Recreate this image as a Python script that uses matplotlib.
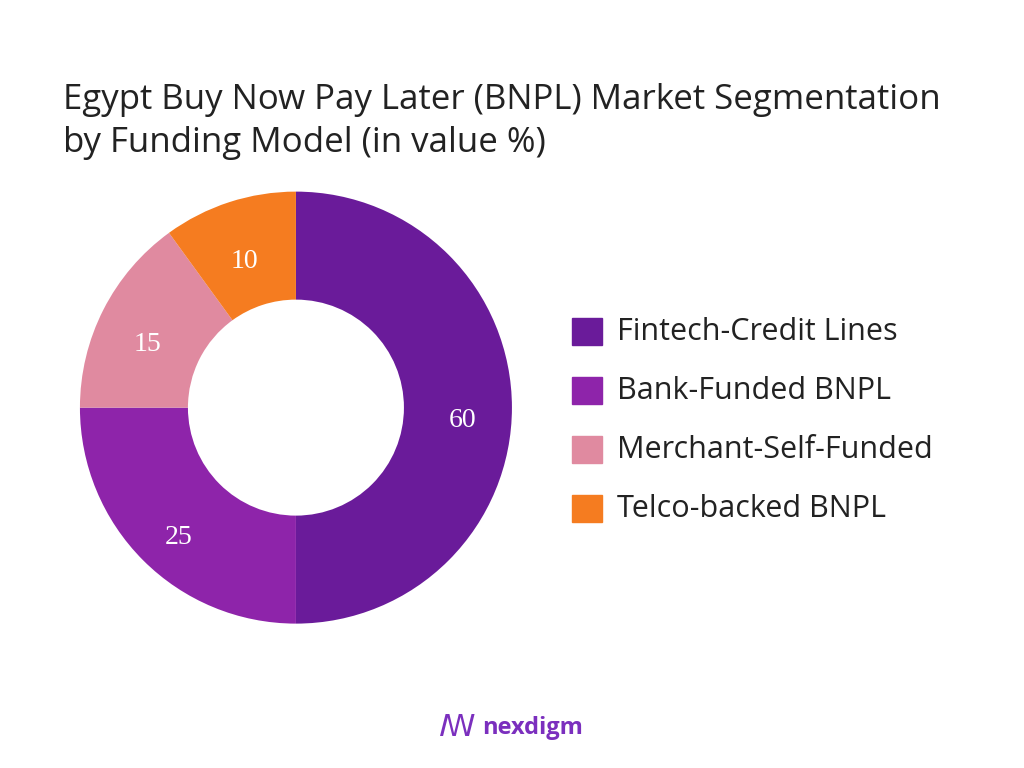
import matplotlib.pyplot as plt
from matplotlib.patches import Rectangle

categories = ["Fintech-Credit Lines", "Bank-Funded BNPL", "Merchant-Self-Funded", "Telco-backed BNPL"]
shares = [50, 25, 15, 10]          # drawn wedge sizes
labels = ["60", "25", "15", "10"]  # printed values
colors = ["#6A1B9A", "#8E24AA", "#E08AA0", "#F57C20"]

fig = plt.figure(figsize=(10.24, 7.68), dpi=100)
fig.patch.set_facecolor("white")

fig.text(0.062, 0.842, "Egypt Buy Now Pay Later (BNPL) Market Segmentation\nby Funding Model (in value %)",
         fontsize=25, family="Open Sans", color="#222222", va="center", ha="left", linespacing=1.35)

ax = fig.add_axes([0.078, 0.188, 0.422, 0.5625])
wedges, texts = ax.pie(shares, colors=colors, startangle=90, counterclock=False,
                       wedgeprops=dict(width=0.5, edgecolor="none"),
                       labels=labels, labeldistance=0.77)
for t in texts:
    t.set_color("white")
    t.set_fontsize(20)
    t.set_family("Liberation Serif")
    t.set_ha("center")
    t.set_va("top")
ax.set_xlim(-1, 1)
ax.set_ylim(-1, 1)
ax.set_aspect("equal")

for i, (cat, c) in enumerate(zip(categories, colors)):
    y = 1 - (332 + i * 59) / 768
    fig.add_artist(Rectangle((572 / 1024, y - 13 / 768), 30 / 1024, 27 / 768,
                             transform=fig.transFigure, color=c))
    fig.text(617 / 1024, y, cat, fontsize=22, family="Open Sans", color="#222222", va="center")

fig.text(0.52, 1 - 728 / 768, "nexdigm", fontsize=17, fontweight="bold", color="#7B2FBE",
         family="Open Sans", ha="center", va="center")
fig.text(0.447, 1 - 728 / 768, "ꟿ", fontsize=22, color="#7B2FBE", ha="center", va="center")

fig.savefig("out.png", dpi=100)
